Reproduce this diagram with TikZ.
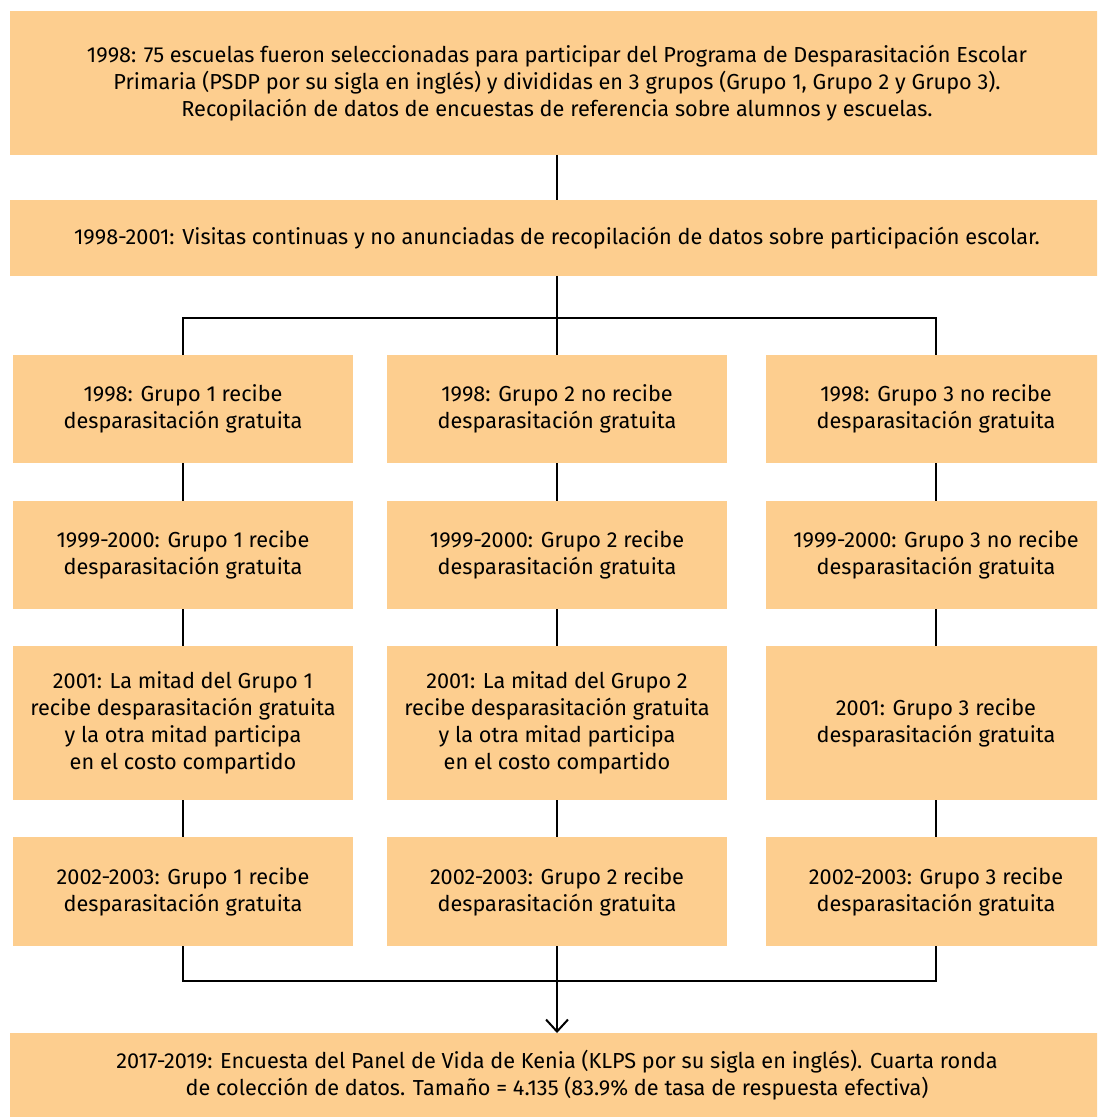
\documentclass[tikz,border=0pt]{standalone}
\usepackage{fontspec}
\setmainfont{Fira Sans}
\usetikzlibrary{positioning,arrows.meta}

\definecolor{boxfill}{RGB}{253,206,143}
\tikzset{
  stage/.style={fill=boxfill, align=center, inner sep=0pt, outer sep=0pt,
    font=\fontsize{10.85}{13.5}\selectfont},
  widebox/.style={stage, minimum width=547pt},
  colbox/.style={stage, minimum width=170pt, minimum height=54pt},
  link/.style={line width=1pt},
}

\begin{document}
\begin{tikzpicture}
\useasboundingbox (0,0) rectangle (548.5pt,-558.5pt);
\clip (0,0) rectangle (548.5pt,-558.5pt);

\node[widebox, minimum height=72pt, anchor=north west] (base) at (5pt,-5.5pt)
  {1998: 75 escuelas fueron seleccionadas para participar del Programa de Desparasitación Escolar\\
   Primaria (PSDP por su sigla en inglés) y divididas en 3 grupos (Grupo 1, Grupo 2 y Grupo 3).\\
   Recopilación de datos de encuestas de referencia sobre alumnos y escuelas.};
\node[widebox, minimum height=38pt, below=22.5pt of base] (visits)
  {1998-2001: Visitas continuas y no anunciadas de recopilación de datos sobre participación escolar.};

% grupo 2 (columna central)
\node[colbox, below=39.5pt of visits] (b1) {1998: Grupo 2 no recibe\\desparasitación gratuita};
\node[colbox, below=19pt of b1] (b2) {1999-2000: Grupo 2 recibe\\desparasitación gratuita};
\node[colbox, minimum height=77pt, below=18.5pt of b2] (b3)
  {2001: La mitad del Grupo 2\\recibe desparasitación gratuita\\y la otra mitad participa\\en el costo compartido};
\node[colbox, minimum height=54.5pt, below=18.5pt of b3] (b4) {2002-2003: Grupo 2 recibe\\desparasitación gratuita};

% grupo 1
\node[colbox, left=17pt of b1] (a1) {1998: Grupo 1 recibe\\desparasitación gratuita};
\node[colbox, left=17pt of b2] (a2) {1999-2000: Grupo 1 recibe\\desparasitación gratuita};
\node[colbox, minimum height=77pt, left=17pt of b3] (a3)
  {2001: La mitad del Grupo 1\\recibe desparasitación gratuita\\y la otra mitad participa\\en el costo compartido};
\node[colbox, minimum height=54.5pt, left=17pt of b4] (a4) {2002-2003: Grupo 1 recibe\\desparasitación gratuita};

% grupo 3
\node[colbox, right=19.5pt of b1] (c1) {1998: Grupo 3 no recibe\\desparasitación gratuita};
\node[colbox, right=19.5pt of b2] (c2) {1999-2000: Grupo 3 no recibe\\desparasitación gratuita};
\node[colbox, minimum height=77pt, right=19.5pt of b3] (c3) {2001: Grupo 3 recibe\\desparasitación gratuita};
\node[colbox, minimum height=54.5pt, right=19.5pt of b4] (c4) {2002-2003: Grupo 3 recibe\\desparasitación gratuita};

\node[widebox, minimum height=42pt, below=43.5pt of b4] (klps)
  {2017-2019: Encuesta del Panel de Vida de Kenia (KLPS por su sigla en inglés). Cuarta ronda\\
   de colección de datos. Tamaño = 4.135 (83.9\% de tasa de respuesta efectiva)};

\coordinate (split) at ([yshift=-21pt]visits.south);
\coordinate (join) at ([yshift=-17.5pt]b4.south);

\draw[link] (base) -- (visits);
\draw[link] (visits.south) -- (split);
\draw[link] (a1.north) |- (split) -| (c1.north);
\draw[link] (split) -- (b1.north);
\foreach \col in {a,b,c}{
  \draw[link] (\col1) -- (\col2);
  \draw[link] (\col2) -- (\col3);
  \draw[link] (\col3) -- (\col4);
}
\draw[link] (a4.south) |- (join) -| (c4.south);
\draw[link, -{Straight Barb[length=6pt,width=11pt,line width=1pt]}] (b4.south) -- (klps.north);
\end{tikzpicture}
\end{document}
